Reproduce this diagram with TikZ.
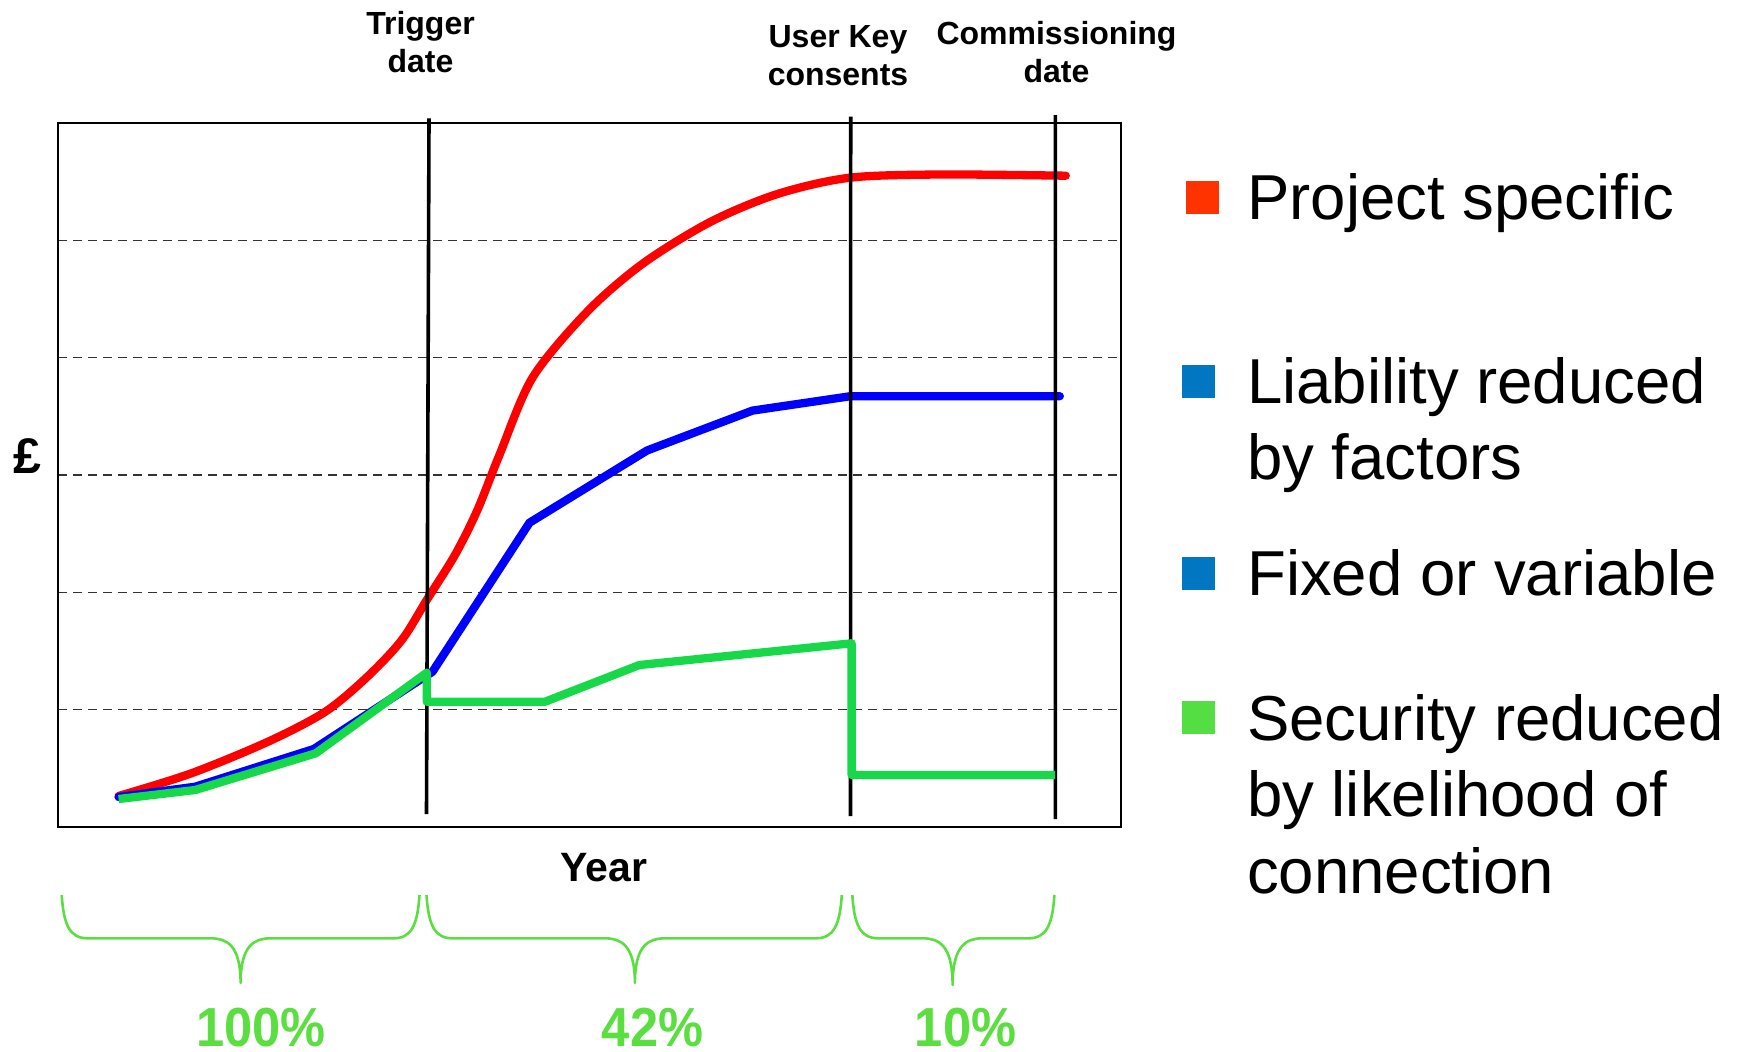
\documentclass[tikz,border=0pt]{standalone}
\usepackage{fontspec}
\setmainfont{Liberation Sans}
\newfontfamily\pctfont{Liberation Sans}[FakeStretch=0.92]
\definecolor{redc}{RGB}{255,0,0}
\definecolor{bluec}{RGB}{0,0,255}
\definecolor{greenc}{RGB}{22,216,72}
\definecolor{braceg}{RGB}{90,222,64}
\definecolor{legred}{RGB}{255,51,0}
\definecolor{legblue}{RGB}{0,119,192}
\definecolor{leggreen}{RGB}{85,221,68}
\newcommand\cenlines[2]{\vtop{\halign{\hfil##\hfil\cr #1\cr #2\cr}}}
\newcommand\leftlines[1]{\vtop{\halign{##\hfil\cr #1}}}
\newcommand\gbrace[4]{%
  \draw[bracestyle] (#1,895) .. controls ({#1+2},925) and ({#1+8},938.3) .. ({#1+26},938.3)
    -- ({#2-30},938.3) .. controls ({#2-14},938.3) and (#2,945) .. (#2,#4)
    .. controls (#2,945) and ({#2+14},938.3) .. ({#2+30},938.3)
    -- ({#3-26},938.3) .. controls ({#3-8},938.3) and ({#3-2},925) .. (#3,895);}
\begin{document}
\begin{tikzpicture}[x=1pt,y=-1pt,
  curvestyle/.style={line width=8.3pt, line join=round, line cap=round},
  markline/.style={line width=3.6pt, black},
  gridline/.style={line width=1.3pt, black!80, dash pattern=on 9pt off 6pt},
  bracestyle/.style={line width=2.6pt, braceg, line join=round},
  toplabel/.style={font=\bfseries\fontsize{32}{38.3}\selectfont, inner sep=0pt, anchor=base},
  legtext/.style={font=\fontsize{63.5}{76.5}\selectfont, inner sep=0pt, anchor=base west},
  legsq/.style={minimum size=33pt, inner sep=0pt, draw=none},
  pct/.style={font=\pctfont\bfseries\fontsize{55}{66}\selectfont, text=braceg, inner sep=0pt, anchor=base}]
\useasboundingbox (0,0) rectangle (1740,1052);
% frame and grid
\coordinate (fnw) at (58,123.3);
\coordinate (fse) at (1120.7,826.7);
\foreach \i in {1,...,5}
  \draw[gridline] (58,{123.3+117.23*\i}) -- (1120.7,{123.3+117.23*\i});
\draw[line width=2.2pt] (fnw) rectangle (fse);
% curves
\draw[curvestyle, redc] plot[smooth, tension=0.5] coordinates {
  (118.6,796) (191.3,773.3) (268,741.7) (325.3,711.7) (367.4,676.7)
  (401.8,640) (427.2,599.2) (455,554.9) (477.2,510.5) (499.4,455)
  (532.7,377.3) (588.1,310.7) (643.6,263) (710.2,222) (776.8,194.2) (848.9,177.8)
  (940,174.5) (1065.7,175.7)};
\draw[curvestyle, bluec] (118.6,797) -- (195.2,786.7) -- (313.8,749) -- (432.5,671.7)
  -- (529.5,522.7) -- (647,450.5) -- (752.4,410.6) -- (850.5,396.2) -- (1059.8,396.2);
% marker lines
\coordinate (trigT) at (429,118.3);   \coordinate (trigB) at (426.5,814);
\coordinate (userT) at (850.7,116.7); \coordinate (userB) at (850.5,816);
\coordinate (commT) at (1055.4,115);  \coordinate (commB) at (1055.3,819);
\draw[markline] (trigT) -- (trigB);
\draw[markline] (userT) -- (userB);
\draw[markline] (commT) -- (commB);
\draw[curvestyle, greenc, line cap=butt] (118.6,799) -- (195.2,790) -- (315.7,753.3) -- (426.7,672.7)
  -- (426.7,701.7) -- (545,701.7) -- (639.4,665) -- (851.6,643.3) -- (851.6,775) -- (1055,775);
% top labels
\node[toplabel] (trig) at (420.5,34) {\cenlines{Trigger}{date}};
\node[toplabel] (user) at (838,47) {\cenlines{User Key}{consents}};
\node[toplabel] (comm) at (1056.5,44) {\cenlines{Commissioning}{date}};
% axis labels
\node[font=\bfseries\fontsize{50}{60}\selectfont, inner sep=0pt, anchor=base] (pound) at (27.3,473) {£};
\node[font=\bfseries\fontsize{41}{48}\selectfont, inner sep=0pt, anchor=base] (year) at (604,881.7) {Year};
% legend
\node[legsq, fill=legred] (sq1) at (1202.5,197) {};
\node[legsq, fill=legblue] (sq2) at (1198.5,381.5) {};
\node[legsq, fill=legblue] (sq3) at (1198.5,573.2) {};
\node[legsq, fill=leggreen] (sq4) at (1198.5,717.5) {};
\node[legtext] (lt1) at (1247,219.5) {Project specific};
\node[legtext] (lt2) at (1247,403) {\leftlines{Liability reduced\cr by factors\cr}};
\node[legtext] (lt3) at (1247,595.5) {Fixed or variable};
\node[legtext] (lt4) at (1247,740) {\leftlines{Security reduced\cr by likelihood of\cr connection\cr}};
% braces
\gbrace{61.7}{240.6}{419.5}{983}
\gbrace{426.5}{634.9}{841.8}{983}
\gbrace{852.3}{952.6}{1054.4}{985}
\node[pct] (p1) at (261,1046) {100\%};
\node[pct] (p2) at (652.5,1046) {42\%};
\node[pct] (p3) at (965.5,1046) {10\%};
\end{tikzpicture}
\end{document}
